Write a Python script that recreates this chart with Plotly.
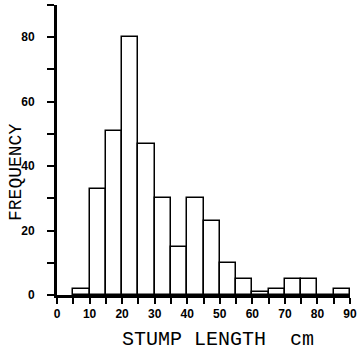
import plotly.graph_objects as go

bin_starts = [5, 10, 15, 20, 25, 30, 35, 40, 45, 50, 55, 60, 65, 70, 75, 80, 85]
frequency = [2, 33, 51, 80, 47, 30, 15, 30, 23, 10, 5, 1, 2, 5, 5, 0, 2]
bin_width = 5

x_tickvals = list(range(0, 95, 5))
x_ticktext = [str(v) if v % 10 == 0 else "" for v in x_tickvals]
y_tickvals = list(range(0, 100, 10))
y_ticktext = [str(v) if v % 20 == 0 else "" for v in y_tickvals]

centers = [s + bin_width / 2 for s in bin_starts]

fig = go.Figure()
fig.add_trace(go.Bar(
    x=centers, y=frequency, width=bin_width,
    marker=dict(color="white", line=dict(color="black", width=1.5)),
    showlegend=False,
))

tickfont = dict(family="Liberation Sans", size=12, color="black", weight="bold")
fig.update_layout(
    width=362, height=351,
    margin=dict(l=57, r=12, t=5, b=56),
    paper_bgcolor="white", plot_bgcolor="white",
    bargap=0,
    xaxis=dict(range=[0, 90], tickvals=x_tickvals, ticktext=x_ticktext,
               ticks="outside", ticklen=6, tickwidth=2, tickcolor="black",
               showline=True, linecolor="black", linewidth=2.5,
               showgrid=False, zeroline=False, tickfont=tickfont),
    yaxis=dict(range=[0, 90], tickvals=y_tickvals, ticktext=y_ticktext,
               ticks="outside", ticklen=7, tickwidth=2, tickcolor="black",
               showline=True, linecolor="black", linewidth=3,
               showgrid=False, zeroline=False, tickfont=tickfont,
               ticklabelstandoff=10),
    annotations=[
        dict(text="STUMP LENGTH  cm", xref="paper", yref="paper",
             x=(218 - 57) / 293, y=-(339 - 295) / 290, xanchor="center", yanchor="middle",
             showarrow=False, font=dict(family="Liberation Mono", size=20, color="black")),
        dict(text="FREQUENCY", xref="paper", yref="paper",
             x=-(57 - 16) / 293, y=(295 - 173) / 290, xanchor="center", yanchor="middle",
             textangle=-90, showarrow=False,
             font=dict(family="Liberation Mono", size=18, color="black")),
    ],
)

fig.write_html("out.html")
